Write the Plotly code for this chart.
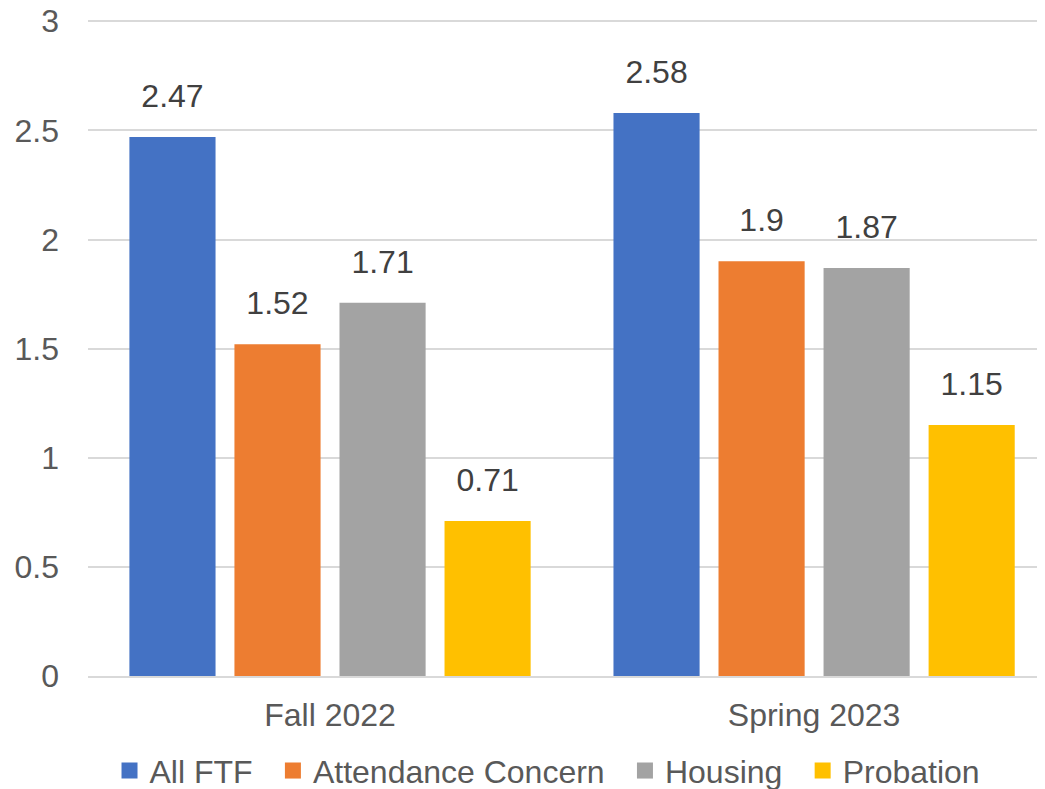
"""Grouped bar chart: FTF averages by term and group."""
import plotly.graph_objects as go

terms = ["Fall 2022", "Spring 2023"]
series_names = ["All FTF", "Attendance Concern", "Housing", "Probation"]
all_ftf = [2.47, 2.58]
attendance = [1.52, 1.9]
housing = [1.71, 1.87]
probation = [0.71, 1.15]
y_ticks = [0, 0.5, 1, 1.5, 2, 2.5, 3]
y_tick_text = ["0", "0.5", "1", "1.5", "2", "2.5", "3"]

colors = ["#4472C4", "#ED7D31", "#A3A3A3", "#FFC000"]
FONT = "Liberation Sans, Arial, sans-serif"
PAD = "\u00a0\u2009"  # a little extra room between legend entries

fig = go.Figure()
series = [all_ftf, attendance, housing, probation]
for i, (name, vals, col) in enumerate(zip(series_names, series, colors)):
    grp = str(i)
    fig.add_bar(
        x=terms,
        y=vals,
        name=name,
        offsetgroup=grp,
        marker=dict(color=col, line=dict(width=0)),
        showlegend=False,
    )
    # value labels, lifted a bit above the bar tops
    fig.add_scatter(
        x=terms,
        y=vals,
        offsetgroup=grp,
        mode="markers+text",
        marker=dict(size=34, color="rgba(0,0,0,0)"),
        text=[f"{v:g}" for v in vals],
        textposition="top center",
        textfont=dict(size=32, color="#404040", family=FONT),
        showlegend=False,
        hoverinfo="skip",
        cliponaxis=False,
    )
    # legend-only entry with a larger square swatch
    fig.add_scatter(
        x=[None],
        y=[None],
        offsetgroup=grp,
        mode="markers",
        name=name + PAD,
        marker=dict(symbol="square", size=16, color=col),
    )

# page body has an 8px margin, so the figure is 8px smaller than the window
fig.update_layout(
    width=1037,
    height=781,
    barmode="group",
    bargap=0.132,
    bargroupgap=0.18,
    scattermode="group",
    scattergap=0.132,
    plot_bgcolor="white",
    paper_bgcolor="white",
    font=dict(family=FONT, size=32, color="#595959"),
    margin=dict(l=80, r=0, t=10, b=113, autoexpand=False),
    showlegend=True,
    legend=dict(
        orientation="h",
        x=0.488,
        xanchor="center",
        y=-0.144,
        yanchor="middle",
        font=dict(size=32, color="#595959"),
        itemwidth=30,
        traceorder="normal",
    ),
    xaxis=dict(
        range=[-0.5, 1.477],
        showgrid=False,
        showline=True,
        linecolor="#D9D9D9",
        linewidth=2,
        ticks="",
        ticklabelstandoff=10,
        automargin=False,
        tickfont=dict(size=32, color="#595959"),
    ),
    yaxis=dict(
        range=[0, 3.015],
        tickvals=y_ticks,
        ticktext=y_tick_text,
        showgrid=True,
        gridcolor="#D9D9D9",
        gridwidth=2,
        zeroline=False,
        showline=False,
        ticks="",
        ticklabelstandoff=28,
        ticklabeloverflow="allow",
        automargin=False,
        tickfont=dict(size=32, color="#595959"),
    ),
)

fig.write_html("out.html")
